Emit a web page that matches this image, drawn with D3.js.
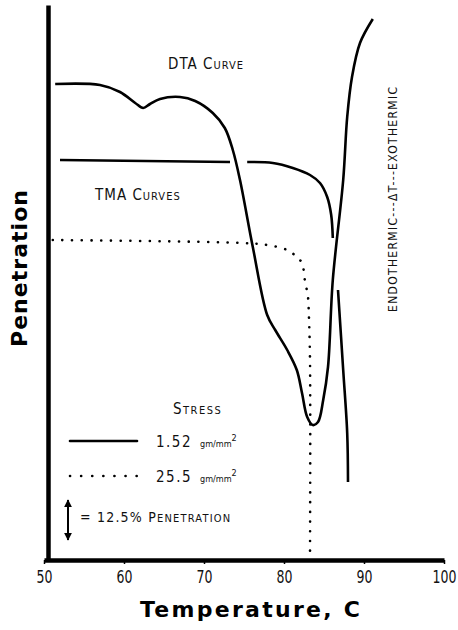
<!DOCTYPE html>
<html>
<head>
<meta charset="utf-8">
<script src="https://cdn.jsdelivr.net/npm/d3@7"></script>
<style>
  body { margin: 0; background: #fff; }
  svg { display: block; }
  .lbl { font-family: "DejaVu Sans Condensed", "Liberation Sans Narrow", "DejaVu Sans", sans-serif; font-stretch: condensed; fill: #111; }
  .title { font-family: "DejaVu Sans", sans-serif; font-weight: bold; fill: #000; }
</style>
</head>
<body>
<script>
// x axis
var xTicks = [50, 60, 70, 80, 90, 100];

// DTA curve
var dtaTemp = [51.4, 57.0, 59.5, 61.4, 62.4, 63.25, 64.5, 67.0, 68.9, 71.1, 72.6, 73.6, 74.5, 76.1, 77.9, 78.9,
               80.4, 81.6, 82.25, 82.9, 83.6, 84.25, 84.9, 85.5, 86.1, 87.4, 87.9, 88.5, 89.5, 91.1];
var dtaPen  = [95.2, 95.0, 93.6, 91.4, 90.4, 91.2, 92.2, 92.6, 91.8, 89.4, 86.4, 82.0, 76.0, 62.6, 49.0, 46.0,
               42.0, 38.0, 33.4, 28.6, 27.0, 27.6, 32.0, 38.6, 56.0, 76.0, 88.6, 96.6, 103.4, 108.2];

// TMA curve, stress 1.52 (null = break in the drawn line)
var tmaLowTemp = [52.0, 73.25, null, 75.4, 78.6, 81.1, 83.25, 84.5, 85.4, 85.9, 86.1, null, 86.75, 87.4, 87.9, 88.0];
var tmaLowPen  = [80.0, 79.6,  null, 79.6, 79.4, 78.4, 77.0, 75.4, 72.6, 69.0, 64.4, null, 54.0, 38.0, 25.4, 15.6];

// TMA curve, stress 25.5
var tmaHighTemp = [51.1, 74.9, 77.9, 80.4, 81.6, 82.25, 82.6, 83.0, 83.1, 83.25, 83.25];
var tmaHighPen  = [64.0, 63.4, 63.0, 62.0, 60.6, 59.4, 56.0, 52.6, 49.4, 40.0, 0.6];

var legendValues = ["1.52", "25.5"];
var legendUnit = "gm/mm";

var w = 458, h = 630;

var svg = d3.select("body")
    .append("svg")
    .attr("width", w)
    .attr("height", h);

var x = d3.scaleLinear().domain([50, 100]).range([44, 444]);
var y = d3.scaleLinear().domain([0, 111]).range([560, 5]);

function zip(a, b) {
    return a.map(function(d, i) { return d === null ? null : [d, b[i]]; });
}

var line = d3.line()
    .defined(function(d) { return d !== null; })
    .x(function(d) { return x(d[0]); })
    .y(function(d) { return y(d[1]); })
    .curve(d3.curveCatmullRom.alpha(0.5));

// bottom axis
var xAxis = svg.append("g")
    .attr("transform", "translate(0,560)")
    .call(d3.axisBottom(x).tickValues(xTicks).tickSize(4).tickSizeOuter(0));
xAxis.select(".domain").attr("stroke", "#000").attr("stroke-width", 4.5);
xAxis.selectAll(".tick line").attr("stroke", "#000").attr("stroke-width", 1.5);
xAxis.selectAll(".tick text")
    .attr("class", "lbl")
    .attr("y", 0)
    .attr("dy", 0)
    .attr("transform", "translate(0,23) scale(0.82,1)")
    .attr("font-size", "17px")
    .attr("fill", "#111");

// left axis (no ticks)
var yAxis = svg.append("g")
    .attr("transform", "translate(48,0)")
    .call(d3.axisLeft(y).tickValues([]).tickSizeOuter(0));
yAxis.select(".domain").attr("stroke", "#000").attr("stroke-width", 4.5);

// curves
svg.append("path")
    .attr("d", line(zip(dtaTemp, dtaPen)))
    .attr("fill", "none")
    .attr("stroke", "#000")
    .attr("stroke-width", 2.6);

svg.append("path")
    .attr("d", line(zip(tmaLowTemp, tmaLowPen)))
    .attr("fill", "none")
    .attr("stroke", "#000")
    .attr("stroke-width", 2.6);

svg.append("path")
    .attr("d", line(zip(tmaHighTemp, tmaHighPen)))
    .attr("fill", "none")
    .attr("stroke", "#000")
    .attr("stroke-width", 2.6)
    .attr("stroke-linecap", "round")
    .attr("stroke-dasharray", "0.1,9.6");

// small caps helper
function smallCaps(sel, parts, big, small) {
    parts.forEach(function(p) {
        sel.append("tspan").attr("font-size", p[1] ? big : small).text(p[0]);
    });
}

var dta = svg.append("text").attr("class", "lbl").attr("x", 168).attr("y", 69).attr("letter-spacing", 1);
smallCaps(dta, [["DTA ", 1], ["C", 1], ["URVE", 0]], "15px", "11px");

var tma = svg.append("text").attr("class", "lbl").attr("x", 95).attr("y", 200).attr("letter-spacing", 1);
smallCaps(tma, [["TMA ", 1], ["C", 1], ["URVES", 0]], "15px", "11px");

var stress = svg.append("text").attr("class", "lbl").attr("x", 173).attr("y", 414).attr("letter-spacing", 1.5);
smallCaps(stress, [["S", 1], ["TRESS", 0]], "15px", "11px");

// legend
var legendY = [441, 476];
svg.selectAll(".legline")
    .data(legendValues)
    .enter()
    .append("line")
    .attr("x1", 70)
    .attr("x2", 137)
    .attr("y1", function(d, i) { return legendY[i]; })
    .attr("y2", function(d, i) { return legendY[i]; })
    .attr("stroke", "#000")
    .attr("stroke-width", 2.6)
    .attr("stroke-linecap", "round")
    .attr("stroke-dasharray", function(d, i) { return i === 0 ? null : "0.1,11"; });

var legText = svg.selectAll(".legtext")
    .data(legendValues)
    .enter()
    .append("text")
    .attr("class", "lbl")
    .attr("x", 156)
    .attr("y", function(d, i) { return legendY[i] + 6; })
    .attr("font-size", "15px")
    .attr("letter-spacing", 1.5);
legText.append("tspan").text(function(d) { return d; });
legText.append("tspan").attr("font-size", "9px").attr("dx", 8).attr("letter-spacing", 0).text(legendUnit);
legText.append("tspan").attr("font-size", "9px").attr("dy", -6).attr("letter-spacing", 0).text("2");

// scale arrow
svg.append("defs").append("marker")
    .attr("id", "ah")
    .attr("viewBox", "0 0 10 10")
    .attr("refX", 9).attr("refY", 5)
    .attr("markerWidth", 4).attr("markerHeight", 5)
    .attr("orient", "auto-start-reverse")
    .append("path")
    .attr("d", "M0,0L10,5L0,10Z")
    .attr("fill", "#000");

svg.append("line")
    .attr("x1", 68).attr("x2", 68)
    .attr("y1", 500).attr("y2", 540)
    .attr("stroke", "#000")
    .attr("stroke-width", 2)
    .attr("marker-start", "url(#ah)")
    .attr("marker-end", "url(#ah)");

var pen = svg.append("text").attr("class", "lbl").attr("x", 80).attr("y", 522).attr("letter-spacing", 1.2);
smallCaps(pen, [["= 12.5% ", 1], ["P", 1], ["ENETRATION", 0]], "14px", "11px");

// right-hand rotated note
svg.append("text")
    .attr("class", "lbl")
    .attr("transform", "translate(397,312) rotate(-90)")
    .attr("font-size", "12px")
    .attr("textLength", 225)
    .attr("lengthAdjust", "spacing")
    .text("ENDOTHERMIC---\u0394T---EXOTHERMIC");

// axis titles
svg.append("text")
    .attr("class", "title")
    .attr("x", 140)
    .attr("y", 617)
    .attr("font-size", "22px")
    .attr("textLength", 220)
    .attr("lengthAdjust", "spacing")
    .text("Temperature, C");

svg.append("text")
    .attr("class", "title")
    .attr("transform", "translate(27,347) rotate(-90)")
    .attr("font-size", "22px")
    .attr("textLength", 157)
    .attr("lengthAdjust", "spacing")
    .text("Penetration");
</script>
</body>
</html>
